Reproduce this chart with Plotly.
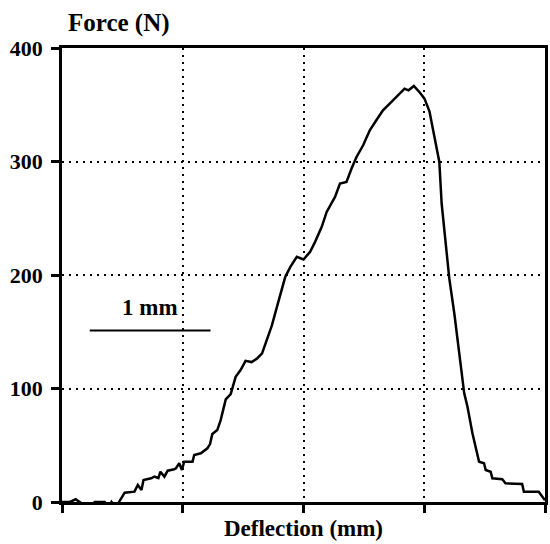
import plotly.graph_objects as go

# Deflection (mm) and force (N)
deflection_mm = [0.0, 0.066, 0.113, 0.148, 0.216, 0.272, 0.354, 0.387, 0.41, 0.444, 0.47,
                 0.486, 0.519, 0.6, 0.628, 0.658, 0.675, 0.738, 0.765, 0.798, 0.815, 0.848,
                 0.875, 0.93, 0.944, 0.971, 0.993, 1.012, 1.081, 1.095, 1.15, 1.204, 1.226,
                 1.245, 1.286, 1.314, 1.356, 1.397, 1.438, 1.479, 1.52, 1.57, 1.616, 1.657,
                 1.698, 1.739, 1.78, 1.808, 1.849, 1.891, 1.945, 2.0, 2.055, 2.096, 2.151,
                 2.192, 2.233, 2.261, 2.302, 2.356, 2.398, 2.439, 2.494, 2.549, 2.603, 2.658,
                 2.714, 2.782, 2.837, 2.87, 2.914, 2.96, 3.002, 3.043, 3.07, 3.125, 3.144,
                 3.18, 3.207, 3.249, 3.29, 3.331, 3.358, 3.399, 3.454, 3.495, 3.509, 3.55,
                 3.564, 3.646, 3.673, 3.811, 3.825, 3.948, 4.0]
force_n = [0, 0, 2.4, 0, -5, 0, 0, -5, 0, -5, 0,
           2.6, 8.2, 9.1, 15, 10.6, 19.4, 20.9, 22.3, 21.1, 26.7, 22.3,
           27.6, 28.8, 29.7, 34.1, 28.2, 35.5, 35.5, 41.4, 42.9, 47.3, 51,
           59.9, 63.4, 72.2, 90.4, 95.1, 110.3, 116.2, 124.4, 123.3, 126.5, 130.9,
           144.1, 155.8, 171.9, 183.7, 198.4, 207.2, 216, 213.7, 220.4, 229.2, 242.4,
           255.6, 263, 268.8, 280.6, 282, 293.8, 304, 314.3, 327.5, 336.3, 345.1,
           351, 358.3, 364.2, 362.7, 366.5, 361.2, 355.4, 344.2, 330.4, 299.6, 263,
           227.8, 197.2, 166.1, 130.9, 95.7, 83.9, 60.5, 35.5, 34.1, 28.2, 26.7,
           20.9, 20, 16.5, 15.8, 9.1, 9.1, 1.5]

y_ticks = [0, 100, 200, 300, 400]
x_ticks = [0, 1, 2, 3, 4]

scale_bar_start = 0.23
scale_bar_length = 1.0
scale_bar_force = 151
scale_bar_label = "1 mm"

FONT = "Liberation Serif, Times New Roman, serif"

fig = go.Figure()
fig.add_trace(go.Scatter(x=deflection_mm, y=force_n, mode="lines",
                         line=dict(color="black", width=2.5), showlegend=False))

fig.add_shape(type="line", xref="x", yref="y",
              x0=scale_bar_start, x1=scale_bar_start + scale_bar_length,
              y0=scale_bar_force, y1=scale_bar_force,
              line=dict(color="black", width=2))
fig.add_annotation(x=scale_bar_start + scale_bar_length / 2, y=scale_bar_force,
                   xref="x", yref="y", text="<b>" + scale_bar_label + "</b>",
                   showarrow=False, yanchor="bottom", yshift=9,
                   font=dict(family=FONT, size=23, color="black"))

fig.add_annotation(x=0.119, y=1.055, xref="paper", yref="paper",
                   text="<b>Force (N)</b>", showarrow=False,
                   xanchor="center", yanchor="middle",
                   font=dict(family=FONT, size=25, color="black"))
fig.add_annotation(x=0.5, y=-0.058, xref="paper", yref="paper",
                   text="<b>Deflection (mm)</b>", showarrow=False,
                   xanchor="center", yanchor="middle",
                   font=dict(family=FONT, size=23, color="black"))

fig.update_xaxes(range=[0, 4], tickvals=x_ticks, showticklabels=False,
                 ticks="outside", ticklen=8, tickwidth=2.5, tickcolor="black",
                 showline=True, linewidth=2.5, linecolor="black", mirror=True,
                 showgrid=True, gridcolor="black", gridwidth=1.5, griddash="2px,5px",
                 zeroline=False)
fig.update_yaxes(range=[0, 400], tickvals=y_ticks,
                 ticktext=["<b>%d</b>" % v for v in y_ticks],
                 ticks="outside", ticklen=8, tickwidth=2.5, tickcolor="black",
                 ticklabelstandoff=4,
                 tickfont=dict(family=FONT, size=22, color="black"),
                 showline=True, linewidth=2.5, linecolor="black", mirror=True,
                 showgrid=True, gridcolor="black", gridwidth=1.5, griddash="2px,5px",
                 zeroline=False)

fig.update_layout(width=550, height=544,
                  margin=dict(l=62, r=2, t=48, b=42),
                  paper_bgcolor="white", plot_bgcolor="white")

fig.write_html("out.html")
